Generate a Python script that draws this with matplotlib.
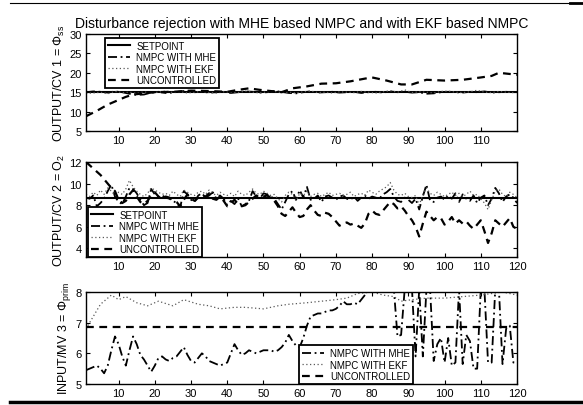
import numpy as np
import matplotlib
matplotlib.use("Agg")
import matplotlib.pyplot as plt
from matplotlib.lines import Line2D

plt.rcParams['font.family'] = ['Liberation Sans', 'DejaVu Sans']
plt.rcParams['mathtext.fontset'] = 'custom'
plt.rcParams['mathtext.rm'] = 'Liberation Sans'
plt.rcParams['mathtext.it'] = 'Liberation Sans:italic'

# ---------------- data ----------------
# panel 1: OUTPUT/CV 1
SP_CV1 = 15.0
X_CV1_UNC = [1, 4, 7, 10, 12, 14, 17, 20, 25, 30, 35, 40, 43, 46, 49, 52, 55,
             58, 62, 66, 70, 74, 78, 80, 84, 88, 91, 95, 100, 105, 110, 113,
             115, 118, 120]
CV1_UNC = [8.8, 10.2, 11.8, 13.0, 13.8, 14.4, 14.7, 15.0, 15.1, 15.4, 15.3,
           15.1, 15.6, 16.0, 15.6, 15.3, 15.0, 16.0, 16.5, 17.2, 17.3, 17.8,
           18.5, 18.8, 18.0, 17.0, 17.0, 18.2, 18.0, 18.2, 18.8, 19.2, 20.0,
           19.7, 19.5]
X_CV1 = list(range(1, 120, 2))
CV1_MHE = [15.0, 15.2, 15.1, 14.9, 15.2, 15.0, 14.6, 14.3, 14.4, 14.9, 15.1,
           14.8, 14.9, 15.2, 15.4, 15.0, 15.1, 14.9, 15.0, 15.1, 14.8, 15.0,
           15.2, 15.1, 14.9, 15.0, 15.3, 15.1, 14.8, 14.7, 15.0, 15.2, 14.9,
           15.0, 15.1, 14.9, 15.0, 15.1, 14.8, 15.0, 15.1, 14.9, 15.2, 15.0,
           15.1, 14.9, 15.0, 14.6, 14.7, 15.0, 15.1, 15.0, 14.9, 15.1, 15.0,
           15.2, 14.9, 15.0, 15.1, 15.0]
CV1_EKF = [14.7, 14.8, 15.0, 14.6, 15.2, 14.9, 15.0, 14.7, 15.1, 14.8, 15.0,
           15.3, 14.9, 15.1, 14.8, 15.0, 15.2, 14.9, 14.8, 15.1, 15.0, 14.9,
           15.3, 15.0, 14.8, 15.1, 15.2, 14.9, 15.0, 14.8, 15.1, 15.3, 14.9,
           15.0, 14.8, 15.1, 15.0, 14.9, 15.2, 15.0, 14.8, 15.1, 15.4, 15.0,
           15.6, 14.9, 15.1, 15.0, 14.8, 15.2, 15.3, 15.0, 14.9, 15.1, 15.5,
           15.0, 14.9, 15.2, 15.0, 14.9]

# panel 2: OUTPUT/CV 2
SP_CV2 = 8.7
X_K = list(range(1, 121))
CV2_UNC = [12.0, 11.7, 11.4, 11.1, 10.8, 10.4, 10.0, 9.6, 9.3, 8.5,
           8.2, 8.4, 9.0, 9.4, 8.8, 8.3, 8.1, 8.4, 8.9, 9.2,
           8.8, 8.6, 8.8, 8.7, 8.5, 8.3, 7.9, 8.5, 9.0, 8.6,
           8.4, 8.7, 8.9, 8.8, 9.1, 8.6, 8.5, 8.8, 8.4, 7.9,
           8.2, 8.5, 8.1, 7.9, 8.0, 8.3, 8.6, 8.9, 8.7, 8.8,
           8.9, 8.7, 8.4, 7.9, 7.2, 7.0, 7.4, 7.8, 7.3, 6.9,
           7.0, 7.6, 8.0, 7.5, 7.1, 7.0, 7.3, 7.2, 6.9, 6.5,
           6.1, 6.3, 6.4, 6.2, 6.3, 6.1, 5.9, 6.3, 7.2, 7.5,
           7.2, 7.1, 7.5, 7.9, 8.3, 8.1, 7.7, 7.9, 7.5, 7.0,
           6.6, 6.0, 5.1, 6.3, 7.4, 7.0, 6.6, 6.9, 6.8, 6.2,
           6.5, 6.9, 6.3, 6.6, 6.3, 6.5, 6.1, 5.8, 6.2, 6.6,
           5.6, 4.5, 5.4, 6.6, 6.3, 6.0, 6.4, 6.8, 6.0, 5.8]
CV2_MHE = [8.7, 8.6, 8.9, 7.9, 8.2, 8.6, 9.3, 9.9, 8.8, 8.3,
           8.1, 8.8, 9.6, 9.5, 9.1, 8.5, 8.0, 8.2, 9.5, 9.0,
           8.8, 8.9, 8.7, 8.6, 8.4, 8.2, 7.8, 9.3, 9.0, 8.5,
           8.3, 8.9, 9.1, 8.7, 8.9, 9.2, 8.6, 8.9, 8.6, 8.0,
           8.4, 8.1, 8.6, 7.9, 8.1, 8.4, 9.3, 8.8, 8.6, 9.1,
           9.0, 8.8, 8.6, 8.1, 7.6, 8.3, 9.0, 9.3, 8.5, 9.4,
           8.7, 9.7, 8.5, 8.6, 8.9, 8.3, 8.8, 8.9, 8.7, 8.5,
           8.8, 8.9, 8.6, 8.5, 8.8, 8.4, 8.7, 8.9, 8.6, 8.8,
           8.7, 8.6, 9.0, 9.2, 9.5, 8.8, 8.4, 8.3, 8.7, 8.5,
           8.2, 8.6, 7.6, 8.8, 9.9, 8.4, 8.3, 8.7, 8.8, 8.5,
           8.9, 8.6, 9.1, 8.3, 9.0, 8.6, 8.4, 8.9, 8.2, 8.7,
           8.9, 8.0, 8.6, 9.6, 9.1, 8.3, 8.8, 9.0, 8.7, 8.2]
CV2_EKF = [9.0, 8.8, 9.2, 8.9, 9.4, 9.0, 9.6, 9.3, 8.9, 9.2,
           9.0, 9.5, 10.3, 9.7, 9.3, 9.0, 8.8, 9.1, 9.6, 9.4,
           9.2, 9.0, 9.1, 8.9, 9.3, 9.0, 8.8, 9.4, 9.2, 9.0,
           8.9, 9.2, 9.3, 9.0, 9.4, 9.1, 8.9, 9.2, 9.0, 8.9,
           9.1, 8.8, 9.3, 9.0, 8.9, 9.2, 9.5, 9.1, 9.0, 9.3,
           9.1, 8.9, 9.0, 8.6, 8.3, 8.9, 9.2, 9.0, 8.4, 9.1,
           8.9, 9.3, 8.8, 9.0, 9.1, 8.8, 9.0, 9.2, 8.9, 9.0,
           9.1, 8.9, 9.0, 9.2, 8.8, 9.0, 9.1, 8.9, 9.4, 9.2,
           9.0, 9.3, 9.5, 9.7, 10.1, 9.4, 9.0, 8.9, 9.1, 8.8,
           8.7, 8.9, 8.0, 9.0, 9.6, 9.1, 8.9, 9.2, 9.0, 8.8,
           9.0, 9.2, 8.9, 9.1, 8.8, 9.0, 9.3, 8.9, 9.0, 8.6,
           8.2, 7.6, 8.5, 9.3, 9.5, 9.0, 8.8, 9.2, 9.0, 8.7]

# panel 3: INPUT/MV 3
MV3_UNC = 6.87
MV3_MHE = [5.45, 5.5, 5.55, 5.6, 5.5, 5.35, 5.6, 6.1, 6.55, 6.3,
           5.9, 5.6, 6.1, 6.55, 6.3, 5.95, 5.8, 5.6, 5.4, 5.6,
           5.85, 5.9, 5.8, 5.75, 5.85, 5.9, 6.05, 6.2, 5.95, 5.75,
           5.7, 5.85, 6.0, 5.9, 5.75, 5.7, 5.65, 5.6, 5.65, 5.7,
           6.0, 6.3, 6.1, 5.95, 6.0, 6.1, 6.05, 6.0, 6.05, 6.1,
           6.1, 6.1, 6.05, 6.1, 6.2, 6.35, 6.6, 6.4, 6.25, 6.2,
           6.5, 6.9, 7.2, 7.25, 7.3, 7.3, 7.35, 7.4, 7.4, 7.45,
           7.55, 7.7, 7.6, 7.6, 7.65, 7.6, 7.75, 7.9, 8.05, 8.1,
           8.1, 8.1, 8.1, 8.1, 8.1, 8.1, 6.55, 6.6, 8.1, 8.1,
           8.1, 5.9, 8.1, 5.9, 8.1, 8.1, 5.75, 6.3, 6.5, 5.7,
           6.5, 5.6, 5.7, 8.1, 5.65, 6.6, 6.4, 5.5, 5.5, 8.1,
           8.1, 5.7, 5.7, 8.1, 8.1, 5.65, 6.8, 6.9, 5.7, 5.7]
X_MV3_EKF = [1, 3, 5, 8, 10, 12, 15, 18, 21, 25, 28, 32, 35, 38, 42, 45, 50,
             54, 57, 62, 66, 70, 73, 76, 80, 83, 86, 88, 91, 95, 100, 105,
             110, 113, 116, 120]
MV3_EKF = [6.8, 7.2, 7.6, 7.9, 7.75, 7.85, 7.65, 7.55, 7.7, 7.55, 7.75, 7.6,
           7.55, 7.45, 7.5, 7.5, 7.45, 7.55, 7.6, 7.65, 7.7, 7.75, 7.8, 7.95,
           8.0, 7.9, 7.85, 7.7, 7.75, 7.8, 7.8, 7.85, 7.9, 7.95, 8.0, 7.9]
X_END = [1, 120]

TITLE = 'Disturbance rejection with MHE based NMPC and with EKF based NMPC'

# ---------------- styles ----------------
S_SP = dict(color='black', lw=1.5, ls='-')
S_MHE = dict(color='black', lw=1.3, ls=(0, (5, 2, 1, 2)))
S_EKF = dict(color='0.35', lw=0.9, ls=(0, (1, 2)))
S_UNC = dict(color='black', lw=1.6, ls=(0, (3.5, 2.5)))

fig = plt.figure(figsize=(5.83, 4.06), dpi=100)
W, H = 583.0, 406.0
L, R = 86, 517


def make_ax(top, bottom):
    ax = fig.add_axes([L / W, 1 - bottom / H, (R - L) / W, (bottom - top) / H])
    ax.tick_params(direction='in', top=True, right=True, labelsize=8,
                   length=3, width=0.8, pad=3)
    for s in ax.spines.values():
        s.set_linewidth(1.0)
    ax.set_xlim(1, 120)
    return ax


def style_legend(leg):
    fr = leg.get_frame()
    fr.set_edgecolor('black')
    fr.set_linewidth(1.3)
    fr.set_boxstyle('square', pad=0)


leg_kw = dict(fontsize=7, fancybox=False, framealpha=1, borderpad=0.3,
              labelspacing=0.15, handlelength=2.3, handletextpad=0.6,
              borderaxespad=0)

# panel 1
ax1 = make_ax(35, 132)
ax1.plot(X_END, [SP_CV1, SP_CV1], label='SETPOINT', **S_SP)
ax1.plot(X_CV1, CV1_MHE, label='NMPC WITH MHE', **S_MHE)
ax1.plot(X_CV1, CV1_EKF, label='NMPC WITH EKF', **S_EKF)
ax1.plot(X_CV1_UNC, CV1_UNC, label='UNCONTROLLED', **S_UNC)
ax1.set_ylim(5, 30)
ax1.set_yticks([5, 10, 15, 20, 25, 30])
ax1.set_xticks(range(10, 120, 10))
ax1.set_ylabel(r'OUTPUT/CV 1 = $\Phi_{\mathrm{ss}}$', fontsize=9, labelpad=2)
ax1.set_title(TITLE, fontsize=10, pad=5)
style_legend(ax1.legend(loc='upper left', bbox_to_anchor=(0.044, 0.96), **leg_kw))

# panel 2
ax2 = make_ax(163, 258)
ax2.plot(X_END, [SP_CV2, SP_CV2], label='SETPOINT', **S_SP)
ax2.plot(X_K, CV2_MHE, label='NMPC WITH MHE', **S_MHE)
ax2.plot(X_K, CV2_EKF, label='NMPC WITH EKF', **S_EKF)
ax2.plot(X_K, CV2_UNC, label='UNCONTROLLED', **S_UNC)
ax2.set_ylim(3.2, 12)
ax2.set_yticks([4, 6, 8, 10, 12])
ax2.set_xticks(range(10, 121, 10))
ax2.set_ylabel(r'OUTPUT/CV 2 = O$_2$', fontsize=9, labelpad=2)
style_legend(ax2.legend(loc='lower left', bbox_to_anchor=(0.005, 0.0), **leg_kw))

# panel 3
ax3 = make_ax(293, 385)
ax3.plot(X_K, MV3_MHE, label='NMPC WITH MHE', **S_MHE)
ax3.plot(X_MV3_EKF, MV3_EKF, label='NMPC WITH EKF', **S_EKF)
ax3.plot(X_END, [MV3_UNC, MV3_UNC], label='UNCONTROLLED', **S_UNC)
ax3.set_ylim(5, 8)
ax3.set_yticks([5, 6, 7, 8])
ax3.set_xticks(range(10, 121, 10))
ax3.set_ylabel(r'INPUT/MV 3 = $\Phi_{\mathrm{prim}}$', fontsize=9, labelpad=2)
style_legend(ax3.legend(loc='lower left', bbox_to_anchor=(0.494, 0.0), **leg_kw))

# page rules above and below the figure
fig.add_artist(Line2D([10 / W, 1], [1 - 4 / H, 1 - 4 / H], color='black', lw=0.8))
fig.add_artist(Line2D([570 / W, 1], [1 - 4 / H, 1 - 4 / H], color='black', lw=2))
fig.add_artist(Line2D([10 / W, 1], [1 - 403 / H, 1 - 403 / H], color='black', lw=2.5))

fig.savefig('out.png', dpi=100)
